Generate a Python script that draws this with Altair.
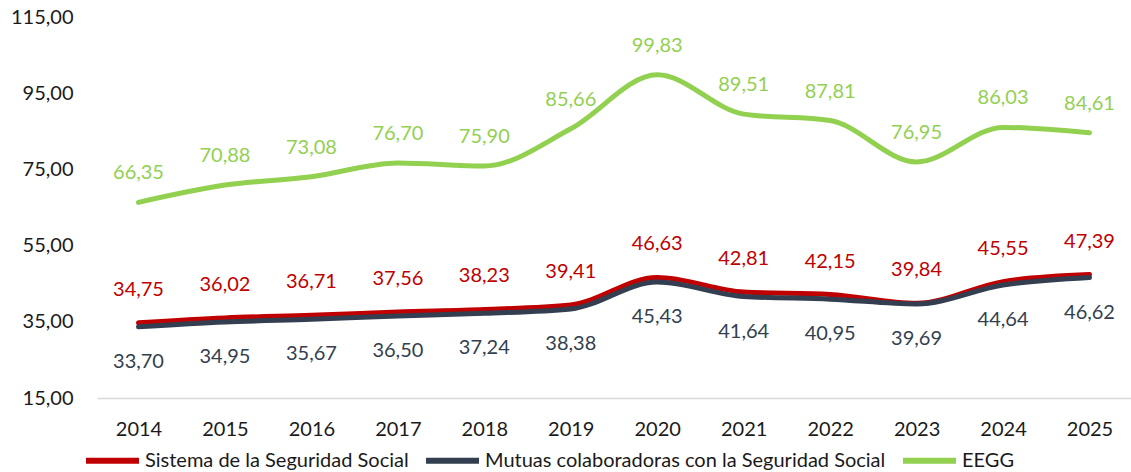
import altair as alt
import pandas as pd

years = ["2014", "2015", "2016", "2017", "2018", "2019", "2020", "2021", "2022", "2023", "2024", "2025"]
sistema = [34.75, 36.02, 36.71, 37.56, 38.23, 39.41, 46.63, 42.81, 42.15, 39.84, 45.55, 47.39]
mutuas = [33.70, 34.95, 35.67, 36.50, 37.24, 38.38, 45.43, 41.64, 40.95, 39.69, 44.64, 46.62]
eegg = [66.35, 70.88, 73.08, 76.70, 75.90, 85.66, 99.83, 89.51, 87.81, 76.95, 86.03, 84.61]
series_names = ["Sistema de la Seguridad Social", "Mutuas colaboradoras con la Seguridad Social", "EEGG"]
colors = ["#C00000", "#333F50", "#92D050"]
y_ticks = [15, 35, 55, 75, 95, 115]

rows = []
for name, vals in zip(series_names, [sistema, mutuas, eegg]):
    for y, v in zip(years, vals):
        rows.append({"year": y, "value": v, "serie": name,
                     "label": f"{v:.2f}".replace(".", ",")})
df = pd.DataFrame(rows)

FONT = "Lato"
color_scale = alt.Scale(domain=series_names, range=colors)
x_enc = alt.X("year:O", title=None,
              scale=alt.Scale(padding=0.48),
              axis=alt.Axis(labelAngle=0, labelFontSize=20, labelFont=FONT, labelColor="#1a1a1a",
                            ticks=False, domainColor="#D9D9D9", domainWidth=1.5,
                            labelPadding=21, grid=False))
y_enc = alt.Y("value:Q", title=None,
              scale=alt.Scale(domain=[15, 115], nice=False, zero=False),
              axis=alt.Axis(values=y_ticks, labelExpr="replace(format(datum.value, '.2f'), '.', ',')",
                            labelFontSize=20, labelFont=FONT, labelColor="#1a1a1a",
                            ticks=False, domain=False, grid=False, labelPadding=24))

base = alt.Chart(df)

lines = base.mark_line(interpolate="monotone", strokeWidth=5, strokeCap="round").encode(
    x=x_enc, y=y_enc,
    color=alt.Color("serie:N", scale=color_scale, sort=series_names,
                    legend=alt.Legend(title=None, orient="none", direction="horizontal",
                                      legendX=-14, legendY=414,
                                      symbolType="stroke", symbolSize=2809, symbolStrokeWidth=6,
                                      labelFontSize=20, labelFont=FONT, labelColor="#1a1a1a",
                                      labelOffset=3, columnPadding=5, labelLimit=0)),
    order=alt.Order("serie:N"),
)

def text_layer(name, dy):
    return base.transform_filter(alt.datum.serie == name).mark_text(
        dy=dy, fontSize=20, font=FONT, baseline="middle", align="center"
    ).encode(
        x=alt.X("year:O"), y=alt.Y("value:Q"), text="label:N",
        color=alt.Color("serie:N", scale=color_scale, legend=None),
    )

chart = alt.layer(
    lines,
    text_layer(series_names[0], -33),
    text_layer(series_names[1], 35),
    text_layer(series_names[2], -29),
).properties(
    width=1034, height=381,
    autosize=alt.AutoSizeParams(type="none"),
    padding={"left": 97, "top": 17, "right": 0, "bottom": 74},
    background="white",
).configure_view(stroke=None)

chart.save("out.html", embed_options={"renderer": "svg", "actions": False})
